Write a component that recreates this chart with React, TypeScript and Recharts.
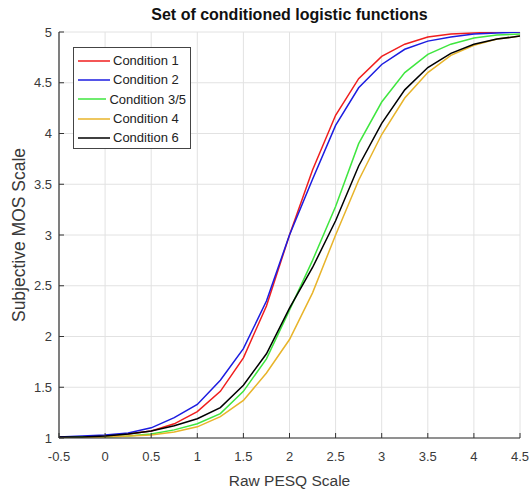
import { LineChart, Line, XAxis, YAxis, CartesianGrid, Legend, Label } from "recharts";

// raw PESQ sample points (step 0.25)
const pesqPoints = [
  -0.5, -0.25, 0, 0.25, 0.5, 0.75, 1, 1.25, 1.5, 1.75, 2, 2.25, 2.5, 2.75, 3, 3.25, 3.5, 3.75, 4, 4.25, 4.5,
];

// subjective MOS
const condition1 = [
  1.01, 1.01, 1.02, 1.04, 1.07, 1.14, 1.26, 1.46, 1.79, 2.3, 3.0, 3.64, 4.18, 4.54, 4.76, 4.88, 4.95, 4.98, 4.99, 5.0, 5.0,
];
const condition2 = [
  1.01, 1.02, 1.03, 1.05, 1.1, 1.2, 1.33, 1.57, 1.88, 2.35, 3.0, 3.55, 4.08, 4.45, 4.68, 4.83, 4.91, 4.95, 4.98, 4.99, 5.0,
];
const condition35 = [
  1.0, 1.01, 1.01, 1.02, 1.04, 1.08, 1.14, 1.24, 1.46, 1.78, 2.26, 2.75, 3.28, 3.9, 4.31, 4.6, 4.78, 4.88, 4.94, 4.97, 4.98,
];
const condition4 = [
  1.0, 1.0, 1.01, 1.02, 1.03, 1.06, 1.11, 1.21, 1.37, 1.64, 1.97, 2.43, 3.0, 3.54, 3.99, 4.35, 4.6, 4.77, 4.87, 4.93, 4.96,
];
const condition6 = [
  1.01, 1.01, 1.02, 1.04, 1.07, 1.12, 1.19, 1.3, 1.52, 1.83, 2.28, 2.68, 3.14, 3.68, 4.1, 4.43, 4.65, 4.79, 4.88, 4.93, 4.96,
];

const seriesKeys = ["c1", "c2", "c35", "c4", "c6"];
const seriesNames = ["Condition 1", "Condition 2", "Condition 3/5", "Condition 4", "Condition 6"];
const seriesColors = ["#f01e1e", "#1c1ce0", "#3fe63f", "#e8b42a", "#000000"];

const xTicks = [-0.5, 0, 0.5, 1, 1.5, 2, 2.5, 3, 3.5, 4, 4.5];
const yTicks = [1, 1.5, 2, 2.5, 3, 3.5, 4, 4.5, 5];

const data = pesqPoints.map((x, i) => ({
  x,
  c1: condition1[i],
  c2: condition2[i],
  c35: condition35[i],
  c4: condition4[i],
  c6: condition6[i],
}));

const FONT = "'Liberation Sans', Arial, sans-serif";
const AXIS_COLOR = "#333333";
const TEXT_COLOR = "#3a3a3a";

const renderLegend = () => (
  <div
    style={{
      width: 118,
      boxSizing: "border-box",
      border: "1px solid #444",
      background: "#fff",
      padding: "3px 4px 1px 4px",
      fontFamily: FONT,
      fontSize: 13,
      color: "#222",
    }}
  >
    {seriesNames.map((name, i) => (
      <div key={name} style={{ display: "flex", alignItems: "center", height: 19.3 }}>
        <svg width={32} height={4} style={{ display: "block" }}>
          <line x1={0} y1={2} x2={32} y2={2} stroke={seriesColors[i]} strokeWidth={1.5} />
        </svg>
        <span style={{ marginLeft: 3, whiteSpace: "nowrap" }}>{name}</span>
      </div>
    ))}
  </div>
);

export default function App() {
  return (
    <div style={{ position: "absolute", left: 0, top: 0, width: 532, height: 490, background: "#fff" }}>
      <div
        style={{
          position: "absolute",
          left: 59,
          width: 461,
          top: 5,
          lineHeight: "20px",
          textAlign: "center",
          fontFamily: FONT,
          fontWeight: "bold",
          fontSize: 16,
          color: "#111",
        }}
      >
        Set of conditioned logistic functions
      </div>
      <LineChart
        width={532}
        height={490}
        data={data}
        margin={{ top: 32, right: 12, bottom: 22, left: 19 }}
        style={{ fontFamily: FONT }}
      >
        <CartesianGrid stroke="#e2e2e2" strokeWidth={1} />
        <XAxis
          dataKey="x"
          type="number"
          domain={[-0.5, 4.5]}
          ticks={xTicks}
          allowDataOverflow
          height={30}
          tickSize={-5}
          tickMargin={19}
          axisLine={{ stroke: AXIS_COLOR, strokeWidth: 1.2 }}
          tickLine={{ stroke: AXIS_COLOR }}
          tick={{ fontSize: 13, fill: TEXT_COLOR }}
        >
          <Label value="Raw PESQ Scale" position="bottom" offset={7} style={{ fontSize: 15.5, fill: TEXT_COLOR }} />
        </XAxis>
        <XAxis
          xAxisId="top"
          orientation="top"
          type="number"
          domain={[-0.5, 4.5]}
          ticks={xTicks}
          height={0}
          tickSize={-5}
          tick={false}
          axisLine={{ stroke: AXIS_COLOR, strokeWidth: 1.2 }}
          tickLine={{ stroke: AXIS_COLOR }}
        />
        <YAxis
          type="number"
          domain={[1, 5]}
          ticks={yTicks}
          allowDataOverflow
          width={40}
          tickSize={-5}
          tickMargin={12}
          axisLine={{ stroke: AXIS_COLOR, strokeWidth: 1.2 }}
          tickLine={{ stroke: AXIS_COLOR }}
          tick={{ fontSize: 13, fill: TEXT_COLOR }}
        >
          <Label
            value="Subjective MOS Scale"
            angle={-90}
            position="insideLeft"
            offset={0}
            style={{ fontSize: 17.5, fill: TEXT_COLOR, textAnchor: "middle" }}
          />
        </YAxis>
        <YAxis
          yAxisId="right"
          orientation="right"
          type="number"
          domain={[1, 5]}
          ticks={yTicks}
          width={0}
          tickSize={-5}
          tick={false}
          axisLine={{ stroke: AXIS_COLOR, strokeWidth: 1.2 }}
          tickLine={{ stroke: AXIS_COLOR }}
        />
        <Legend
          layout="vertical"
          align="center"
          verticalAlign="middle"
          content={renderLegend}
          wrapperStyle={{ left: 73, top: 47, width: 118 }}
        />
        {seriesKeys.map((key, i) => (
          <Line
            key={key}
            dataKey={key}
            name={seriesNames[i]}
            type="linear"
            stroke={seriesColors[i]}
            strokeWidth={1.5}
            dot={false}
            isAnimationActive={false}
          />
        ))}
      </LineChart>
    </div>
  );
}
